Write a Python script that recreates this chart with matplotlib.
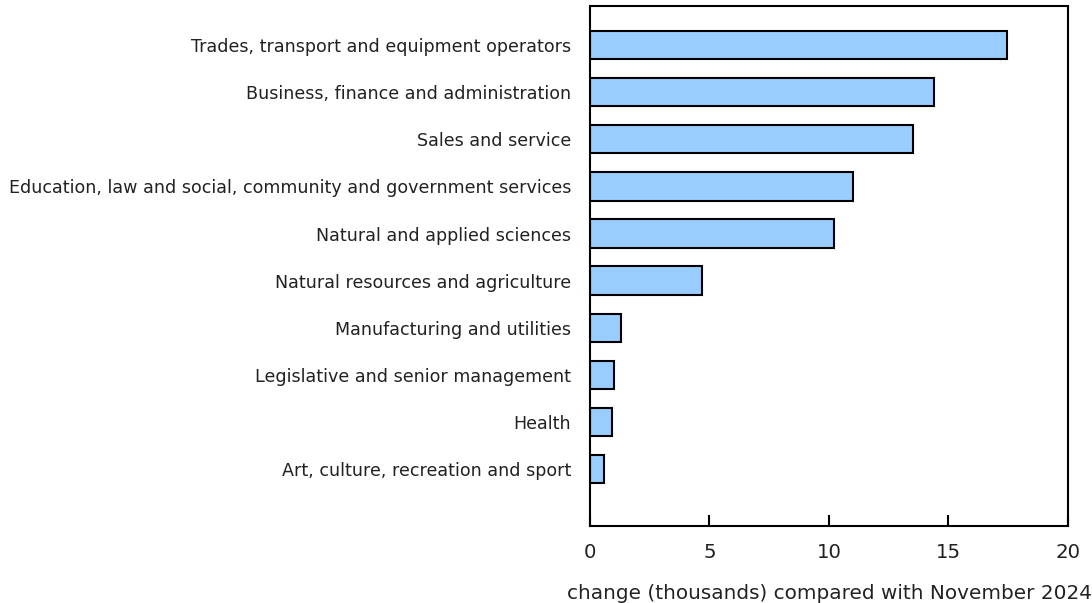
import matplotlib
matplotlib.use("Agg")
import matplotlib.pyplot as plt

categories = [
    "Trades, transport and equipment operators",
    "Business, finance and administration",
    "Sales and service",
    "Education, law and social, community and government services",
    "Natural and applied sciences",
    "Natural resources and agriculture",
    "Manufacturing and utilities",
    "Legislative and senior management",
    "Health",
    "Art, culture, recreation and sport",
]
values = [17.45, 14.4, 13.5, 11.0, 10.2, 4.7, 1.3, 1.0, 0.9, 0.6]
xticks = [0, 5, 10, 15, 20]

fig = plt.figure(figsize=(10.92, 6.03), dpi=100)
ax = fig.add_axes([0.5403, 0.1277, 0.4377, 0.8623])

pos = list(range(len(categories)))
ax.barh(pos, values, height=0.6, color="#99ccff", edgecolor="black", linewidth=1.5)

ax.set_ylim(10.21, -0.83)
ax.set_xlim(0, 20)
ax.set_yticks(pos)
ax.set_yticklabels(categories, fontsize=12.6, color="#222222")
ax.tick_params(axis="y", length=0, pad=13.7)
ax.set_xticks(xticks)
ax.set_xticklabels([str(t) for t in xticks], fontsize=14.2, color="#222222")
ax.tick_params(axis="x", direction="in", length=8, width=1.5, pad=12)

for s in ax.spines.values():
    s.set_linewidth(1.5)
    s.set_color("black")

ax.set_xlabel("change (thousands) compared with November 2024", fontsize=14.4,
              color="#222222", labelpad=16)

fig.savefig("out.png", dpi=100)
